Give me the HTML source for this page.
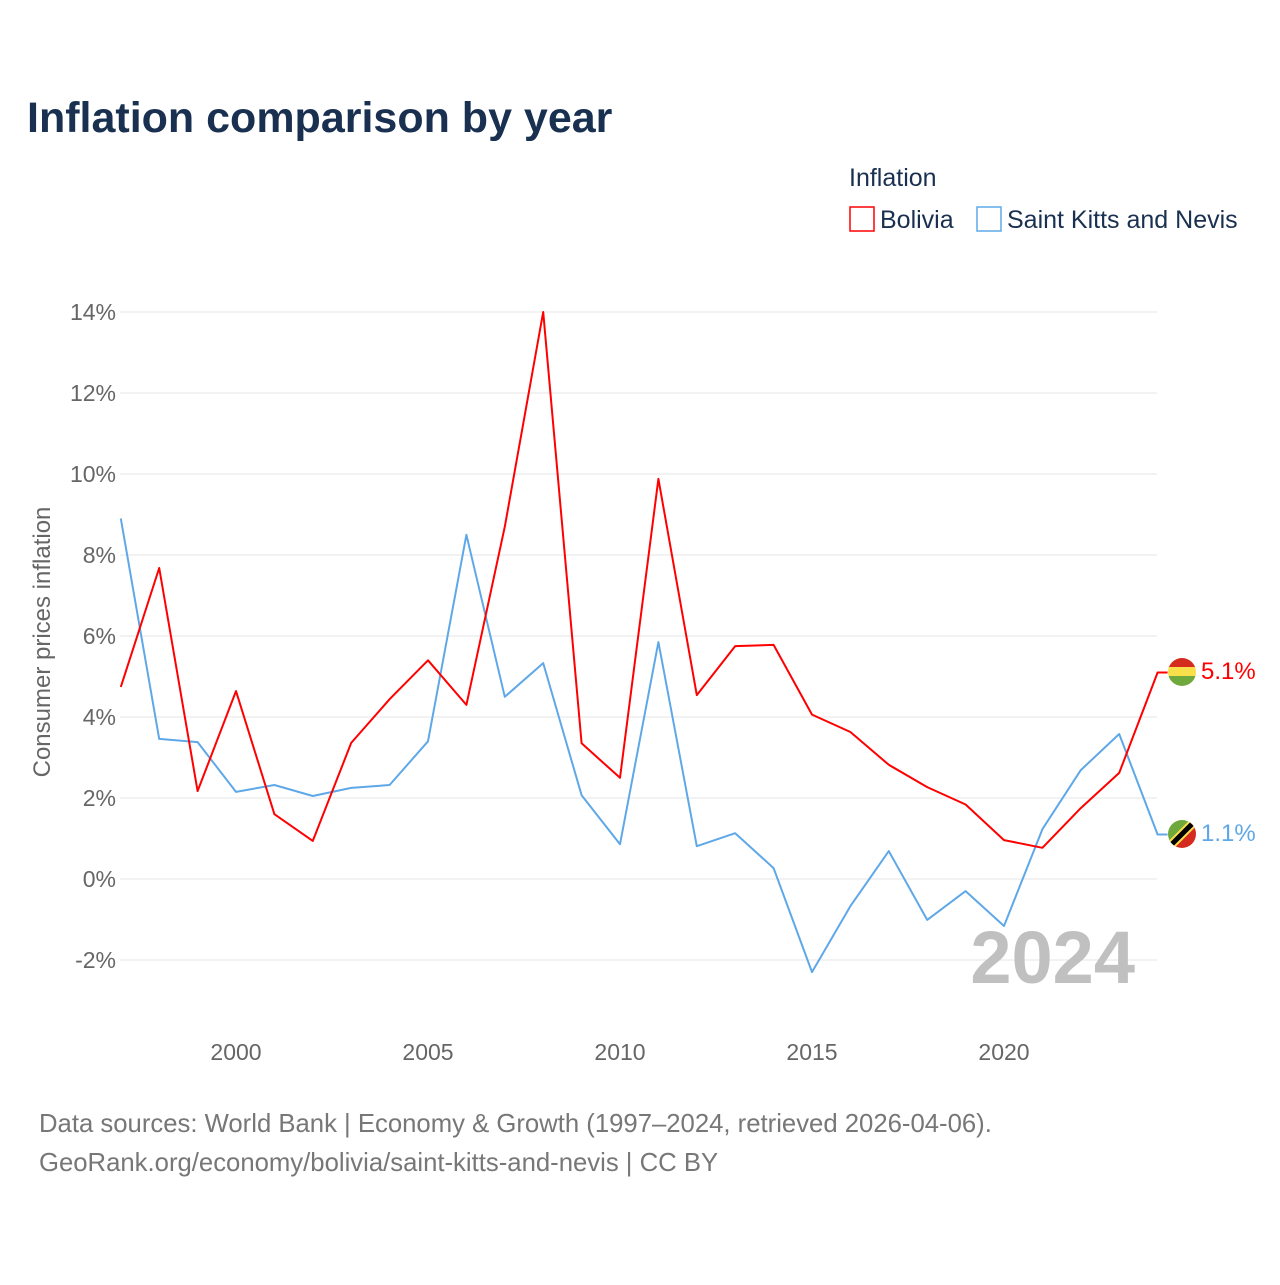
<!DOCTYPE html>
<html><head><meta charset="utf-8"><style>
body{margin:0;background:#fff;font-family:"Liberation Sans",sans-serif;}
svg text{font-family:"Liberation Sans",sans-serif;}
</style></head><body>
<svg id="chart" width="1280" height="1280" xmlns="http://www.w3.org/2000/svg">
<text x="27" y="132" font-size="43" font-weight="bold" fill="#1a3050">Inflation comparison by year</text>
<text x="849" y="186" font-size="25" fill="#1a3050">Inflation</text>
<g><rect x="850" y="207" width="24" height="24" fill="none" stroke="#ff0000" stroke-width="1.5"/><text x="880" y="228" font-size="25" fill="#1a3050">Bolivia</text></g>
<g><rect x="977" y="207" width="24" height="24" fill="none" stroke="#5fa8e8" stroke-width="1.5"/><text x="1007" y="228" font-size="25" fill="#1a3050">Saint Kitts and Nevis</text></g>
<g id="grid"></g><g id="yticks"></g><g id="xticks"></g>
<text transform="translate(50,642) rotate(-90)" text-anchor="middle" font-size="24" fill="#666">Consumer prices inflation</text>
<text x="1135" y="983" text-anchor="end" font-size="74" font-weight="bold" fill="#c0c0c0">2024</text>
<g id="series"></g>
<g><clipPath id="c1"><circle cx="1182" cy="672" r="14"/></clipPath><g clip-path="url(#c1)"><rect x="1168" y="658" width="28" height="10" fill="#d52b1e"/><rect x="1168" y="667" width="28" height="10" fill="#f9e04a"/><rect x="1168" y="676" width="28" height="10" fill="#6fa83c"/></g></g>
<g><clipPath id="c2"><circle cx="1182" cy="834" r="14"/></clipPath><g clip-path="url(#c2)"><polygon points="1168,820 1196,820 1168,848" fill="#6fa83c"/><polygon points="1196,820 1196,848 1168,848" fill="#d52b1e"/><line x1="1194" y1="822" x2="1170" y2="846" stroke="#f9e04a" stroke-width="9"/><line x1="1194" y1="822" x2="1170" y2="846" stroke="#000" stroke-width="5"/></g></g>
<text id="lblB" x="1201" y="679" font-size="24" fill="#ff0000">5.1%</text>
<text id="lblS" x="1201" y="841" font-size="24" fill="#5fa8e8">1.1%</text>
<text x="39" y="1132" font-size="25.7" fill="#777">Data sources: World Bank | Economy &amp; Growth (1997–2024, retrieved 2026-04-06).</text>
<text x="39" y="1171" font-size="25.7" fill="#777">GeoRank.org/economy/bolivia/saint-kitts-and-nevis | CC BY</text>
</svg>
<script>
const years=[1997,1998,1999,2000,2001,2002,2003,2004,2005,2006,2007,2008,2009,2010,2011,2012,2013,2014,2015,2016,2017,2018,2019,2020,2021,2022,2023,2024];
const bolivia=[4.74,7.68,2.17,4.64,1.6,0.94,3.36,4.44,5.4,4.3,8.7,14.0,3.35,2.5,9.88,4.54,5.75,5.78,4.06,3.63,2.82,2.27,1.84,0.96,0.77,1.75,2.62,5.1];
const skn=[8.9,3.46,3.38,2.15,2.32,2.05,2.25,2.32,3.4,8.5,4.5,5.33,2.07,0.86,5.85,0.81,1.13,0.27,-2.3,-0.67,0.69,-1.01,-0.3,-1.16,1.23,2.69,3.58,1.1];
const yTicks=[-2,0,2,4,6,8,10,12,14];
const xTicks=[2000,2005,2010,2015,2020];
const NS="http://www.w3.org/2000/svg";
const x=v=>120.8+(v-1997)*38.4;
const y=v=>879-v*40.5;
function mk(t,a,p){const e=document.createElementNS(NS,t);for(const k in a)e.setAttribute(k,a[k]);p.appendChild(e);return e;}
const grid=document.getElementById('grid'),yt=document.getElementById('yticks'),xt=document.getElementById('xticks'),se=document.getElementById('series');
yTicks.forEach(v=>{
 const l=mk('line',{x1:120,x2:1157,y1:y(v),y2:y(v),stroke:'#e6e6e6','stroke-width':1},grid);
 
 
 const t=mk('text',{x:116,y:y(v)+8,'text-anchor':'end','font-size':23,fill:'#666'},yt);
 t.textContent=v+'%';
 
 
});
xTicks.forEach(v=>{
 const t=mk('text',{x:x(v),y:1060,'text-anchor':'middle','font-size':23,fill:'#666'},xt);
 t.textContent=v;
 
 
});
function line(vals,col,name){
 const d=vals.map((v,i)=>(i?'L':'M')+x(years[i]).toFixed(1)+','+y(v).toFixed(1)).join('')+'H'+(x(2024)+10);
 const p=mk('path',{d:d,fill:'none',stroke:col,'stroke-width':2,'stroke-linejoin':'round'},se);
 
 
}
line(skn,'#5fa8e8','skn-line');
line(bolivia,'#ff0000','bolivia-line');
document.getElementById('lblB').textContent=bolivia[bolivia.length-1].toFixed(1)+'%';
document.getElementById('lblS').textContent=skn[skn.length-1].toFixed(1)+'%';
</script>
</body></html>
